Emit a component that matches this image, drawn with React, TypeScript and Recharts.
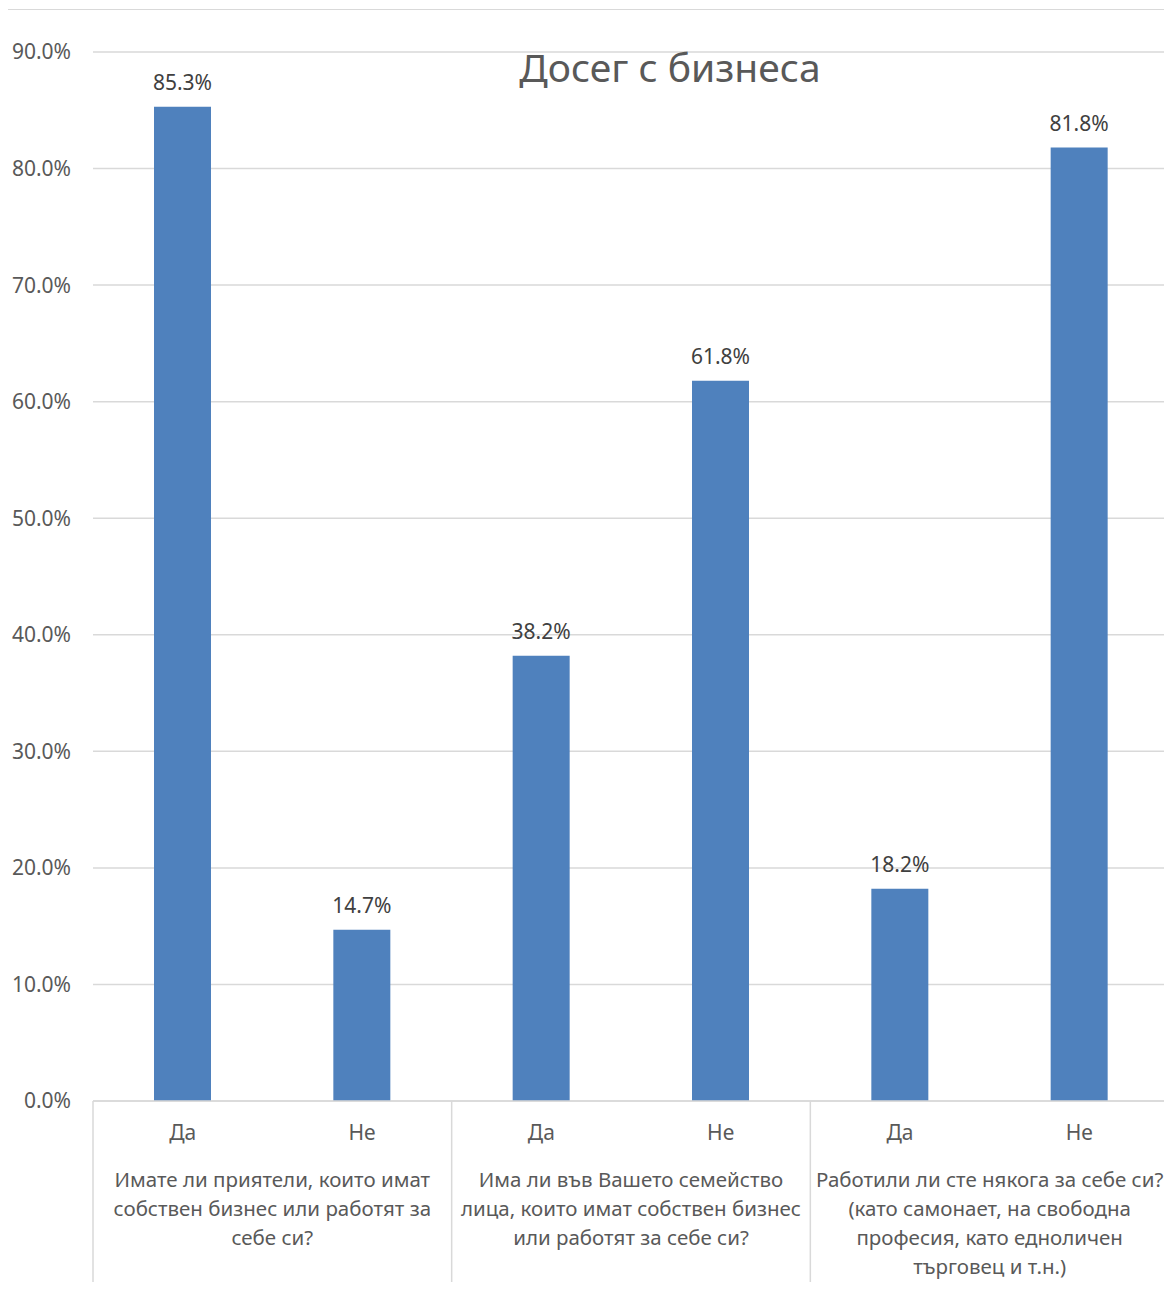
import React from 'react';
import { BarChart, Bar, XAxis, YAxis, CartesianGrid, LabelList } from 'recharts';

const answers = ['Да', 'Не', 'Да', 'Не', 'Да', 'Не'];
const values = [85.3, 14.7, 38.2, 61.8, 18.2, 81.8];
const groupLines = [
  ['Имате ли приятели, които имат', 'собствен бизнес или работят за', 'себе си?'],
  ['Има ли във Вашето семейство', 'лица, които имат собствен бизнес', 'или работят за себе си?'],
  ['Работили ли сте някога за себе си?', '(като самонает, на свободна', 'професия, като едноличен', 'търговец и т.н.)'],
];
const yTicks = [0, 10, 20, 30, 40, 50, 60, 70, 80, 90];

const data = answers.map((a, i) => ({ answer: a, value: values[i], idx: i }));

const W = 1164;
const H = 1280;
const MARGIN = { top: 42, right: 3, left: 0, bottom: 0 };
const Y_W = 85;
const X_H = 189;
const BAND = (W - Y_W - MARGIN.right) / answers.length;
const FONT = '"Noto Sans", "Open Sans", sans-serif';
const FS = 21;
const GRID = '#d9d9d9';
const TEXT = '#595959';

function XTick(props: any) {
  const { x, y, index } = props;
  const i = index as number;
  const isFirst = i % 2 === 0;
  const g = Math.floor(i / 2);
  return (
    <g>
      <text x={x} y={y + 32} dy="0.35em" textAnchor="middle" fontSize={FS} fill={TEXT} fontFamily={FONT}>
        {answers[i]}
      </text>
      {isFirst && (
        <>
          <line x1={x - BAND / 2} x2={x - BAND / 2} y1={y} y2={y + 181} stroke={GRID} strokeWidth={1.5} />
          {groupLines[g].map((ln, k) => (
            <text
              key={k}
              x={x + BAND / 2}
              y={y + 79 + k * 29}
              dy="0.35em"
              textAnchor="middle"
              fontSize={20.5}
              fill={TEXT}
              fontFamily={FONT}
            >
              {ln}
            </text>
          ))}
        </>
      )}
    </g>
  );
}

export default function App() {
  return (
    <div
      style={{
        position: 'relative',
        left: -1,
        top: 1,
        width: W,
        height: H,
        borderLeft: `1px solid ${GRID}`,
        borderTop: `1px solid ${GRID}`,
        fontFamily: FONT,
      }}
    >
      <div
        style={{
          position: 'absolute',
          left: 0,
          width: 1324,
          top: 35,
          textAlign: 'center',
          fontSize: 39,
          color: TEXT,
          lineHeight: '44px',
          pointerEvents: 'none',
          zIndex: 2,
        }}
      >
        Досег с бизнеса
      </div>
      <BarChart
        width={W}
        height={H}
        data={data}
        margin={MARGIN}
        barCategoryGap={0}
        style={{ overflow: 'visible' }}
      >
        <CartesianGrid vertical={false} stroke={GRID} strokeWidth={1.5} />
        <XAxis
          dataKey="idx"
          height={X_H}
          tickLine={false}
          tickSize={0}
          tickMargin={0}
          axisLine={{ stroke: GRID, strokeWidth: 1.5 }}
          tick={<XTick />}
          interval={0}
        />
        <YAxis
          width={Y_W}
          domain={[0, 90]}
          ticks={yTicks}
          axisLine={false}
          tickLine={false}
          tickSize={0}
          tickMargin={22}
          tickFormatter={(v: number) => v.toFixed(1) + '%'}
          tick={{ fontSize: FS, fill: TEXT, fontFamily: FONT }}
        />
        <Bar dataKey="value" fill="#4f81bd" barSize={57} isAnimationActive={false}>
          <LabelList
            dataKey="value"
            position="top"
            offset={17}
            formatter={(v: any) => Number(v).toFixed(1) + '%'}
            style={{ fontSize: FS, fill: '#404040', fontFamily: FONT }}
          />
        </Bar>
      </BarChart>
    </div>
  );
}
